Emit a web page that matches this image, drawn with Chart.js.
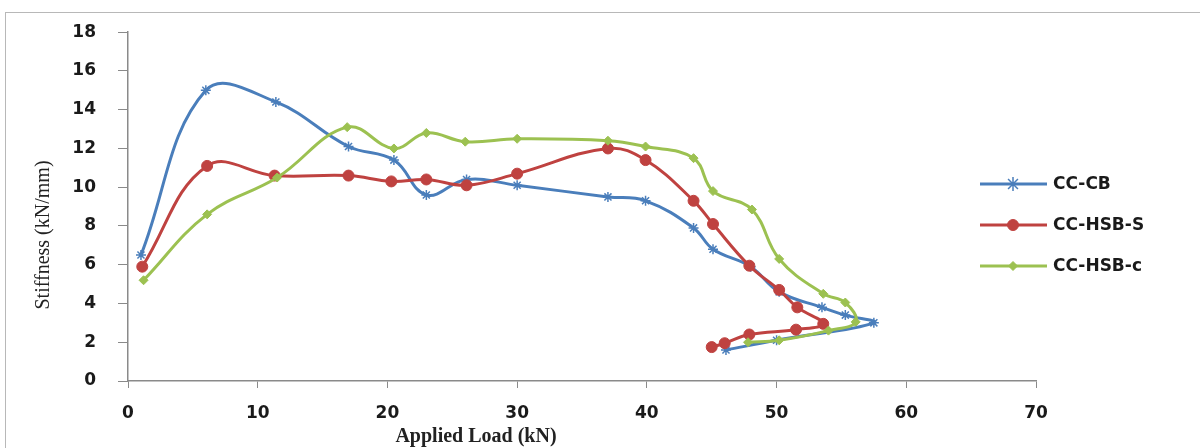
<!DOCTYPE html>
<html>
<head>
<meta charset="utf-8">
<script src="https://cdn.jsdelivr.net/npm/chart.js@4"></script>
<style>
  html, body { margin:0; padding:0; background:#fff; }
  #wrap { position:relative; width:1200px; height:448px; overflow:hidden; }
  #frame { position:absolute; left:5px; top:12px; width:1300px; height:600px; border:1.5px solid #b8b8b8; box-sizing:border-box; }
  canvas { position:absolute; left:0; top:0; }
</style>
</head>
<body>
<div id="wrap">
  <div id="frame"></div>
  <canvas id="c" width="1200" height="448"></canvas>
</div>
<script>
// ---- data (Applied Load kN, Stiffness kN/mm) ----
const seriesNames = ['CC-CB', 'CC-HSB-S', 'CC-HSB-c'];
const cbLoad  = [1.0, 6.0, 11.4, 17.0, 20.5, 23.0, 26.1, 30.0, 37.0, 39.9, 43.6, 45.1, 48.0, 50.2, 53.5, 55.3, 57.5, 50.0, 46.1];
const cbStiff = [6.5, 15.0, 14.4, 12.1, 11.4, 9.6, 10.4, 10.1, 9.5, 9.3, 7.9, 6.8, 5.9, 4.6, 3.8, 3.4, 3.0, 2.1, 1.6];
const hsbSLoad  = [1.1, 6.1, 11.3, 17.0, 20.3, 23.0, 26.1, 30.0, 37.0, 39.9, 43.6, 45.1, 47.9, 50.2, 51.6, 53.6, 51.5, 47.9, 46.0, 45.0];
const hsbSStiff = [5.9, 11.1, 10.6, 10.6, 10.3, 10.4, 10.1, 10.7, 12.0, 11.4, 9.3, 8.1, 5.95, 4.7, 3.8, 2.95, 2.65, 2.4, 1.95, 1.75];
const hsbCLoad  = [1.2, 6.1, 11.5, 16.9, 20.5, 23.0, 26.0, 30.0, 37.0, 39.9, 43.6, 45.1, 48.1, 50.2, 53.6, 55.3, 56.1, 54.0, 50.2, 47.8];
const hsbCStiff = [5.2, 8.6, 10.5, 13.1, 12.0, 12.8, 12.35, 12.5, 12.4, 12.1, 11.5, 9.8, 8.85, 6.3, 4.5, 4.05, 3.05, 2.6, 2.1, 2.0];
const xTicks = [0, 10, 20, 30, 40, 50, 60, 70];
const yTicks = [0, 2, 4, 6, 8, 10, 12, 14, 16, 18];
const xTitle = 'Applied Load (kN)';
const yTitle = 'Stiffness (kN/mm)';

const colors = ['#4A7EBB', '#BF4240', '#9CC151'];
const styles = ['star', 'circle', 'rectRot'];
const radii = [5, 5.5, 4.5];

function pts(xs, ys) { return xs.map((x, i) => ({x: x, y: ys[i]})); }
const allData = [pts(cbLoad, cbStiff), pts(hsbSLoad, hsbSStiff), pts(hsbCLoad, hsbCStiff)];

const datasets = seriesNames.map((n, i) => ({
  label: n,
  data: allData[i],
  showLine: true,
  borderColor: colors[i],
  backgroundColor: colors[i],
  borderWidth: 3,
  tension: 0.4,
  pointStyle: styles[i],
  pointRadius: radii[i],
  pointBorderWidth: i === 0 ? 1.5 : 1,
  pointBorderColor: colors[i],
  pointBackgroundColor: colors[i],
  order: 3 - i
}));

const decor = {
  id: 'decor',
  afterDraw(chart) {
    const ctx = chart.ctx;
    ctx.save();
    // y title
    ctx.fillStyle = '#222';
    ctx.font = '20px "Liberation Serif", "Times New Roman", serif';
    ctx.textAlign = 'center';
    ctx.textBaseline = 'middle';
    ctx.translate(44, 235);
    ctx.rotate(-Math.PI / 2);
    ctx.fillText(yTitle, 0, 0);
    ctx.restore();
    ctx.save();
    // x title
    ctx.fillStyle = '#222';
    ctx.font = 'bold 20px "Liberation Serif", "Times New Roman", serif';
    ctx.textAlign = 'center';
    ctx.textBaseline = 'middle';
    ctx.fillText(xTitle, 476, 437);
    // legend
    const ys = [184, 225, 266];
    seriesNames.forEach((n, i) => {
      const y = ys[i];
      ctx.strokeStyle = colors[i];
      ctx.lineWidth = 3;
      ctx.beginPath();
      ctx.moveTo(980, y);
      ctx.lineTo(1047, y);
      ctx.stroke();
      ctx.fillStyle = colors[i];
      ctx.strokeStyle = colors[i];
      ctx.lineWidth = i === 0 ? 1.5 : 1;
      Chart.helpers.drawPoint(ctx, {
        pointStyle: styles[i], radius: i === 0 ? 7 : radii[i], rotation: 0, borderWidth: ctx.lineWidth
      }, 1013, y);
      ctx.fillStyle = '#1a1a1a';
      ctx.font = 'bold 17px "DejaVu Sans", Verdana, sans-serif';
      ctx.textAlign = 'left';
      ctx.textBaseline = 'middle';
      ctx.fillText(n, 1053, y + 1);
    });
    ctx.restore();
  }
};

new Chart(document.getElementById('c'), {
  type: 'scatter',
  data: { datasets: datasets },
  options: {
    responsive: false,
    animation: false,
    events: [],
    layout: { padding: { left: 0, top: 31, right: 164, bottom: 0 } },
    plugins: { legend: { display: false }, tooltip: { enabled: false } },
    scales: {
      x: {
        type: 'linear', min: 0, max: 70,
        afterBuildTicks(s) { s.ticks = xTicks.map(v => ({value: v})); },
        afterFit(s) { s.height = 67; },
        grid: { drawOnChartArea: false, drawTicks: true, tickLength: 7, color: '#8a8a8a', lineWidth: 1 },
        border: { display: true, color: '#8a8a8a', width: 1.5 },
        ticks: { color: '#1a1a1a', padding: 15, maxRotation: 0, font: { family: '"DejaVu Sans", Verdana, sans-serif', size: 17, weight: 'bold' } }
      },
      y: {
        type: 'linear', min: 0, max: 18,
        afterBuildTicks(s) { s.ticks = yTicks.map(v => ({value: v})); },
        afterFit(s) { s.width = 128; },
        grid: { drawOnChartArea: false, drawTicks: true, tickLength: 10, color: '#8a8a8a', lineWidth: 1 },
        border: { display: true, color: '#8a8a8a', width: 1.5 },
        ticks: { color: '#1a1a1a', padding: 22, font: { family: '"DejaVu Sans", Verdana, sans-serif', size: 17, weight: 'bold' } }
      }
    }
  },
  plugins: [decor]
});
</script>
</body>
</html>
